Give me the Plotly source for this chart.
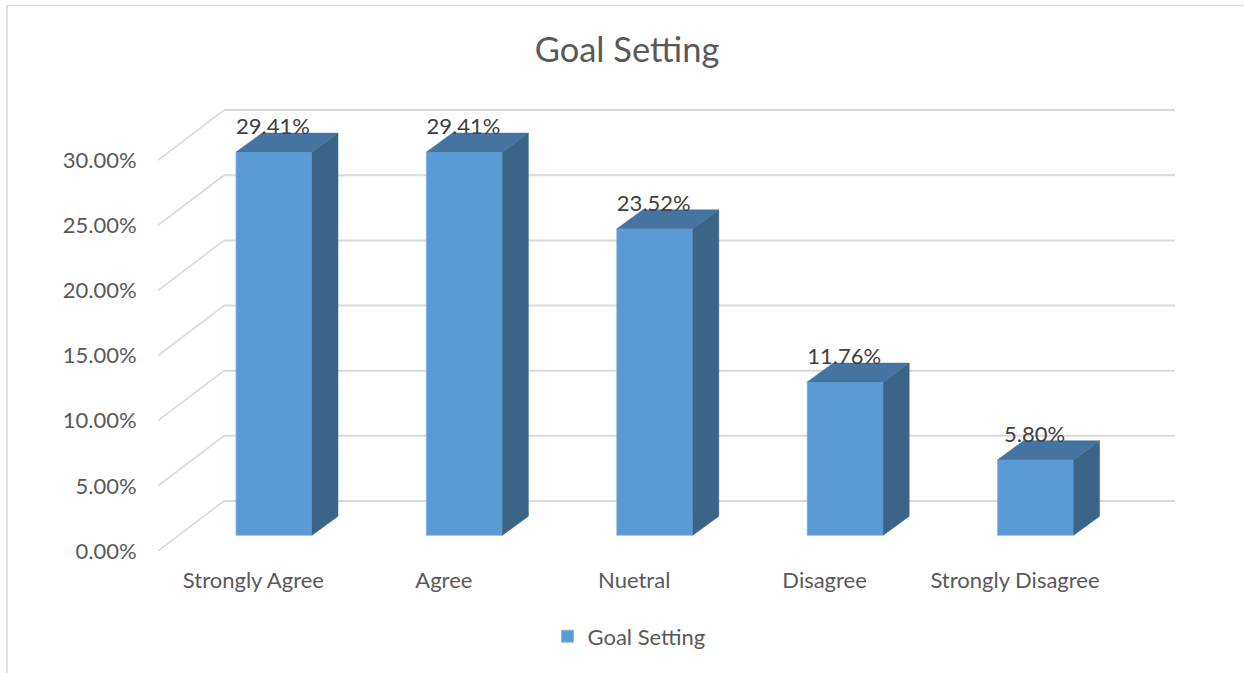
import plotly.graph_objects as go

# Data
categories = ["Strongly Agree", "Agree", "Nuetral", "Disagree", "Strongly Disagree"]
values = [0.2941, 0.2941, 0.2352, 0.1176, 0.0580]
value_labels = ["29.41%", "29.41%", "23.52%", "11.76%", "5.80%"]
y_ticks = [0.0, 0.05, 0.10, 0.15, 0.20, 0.25, 0.30]
series_name = "Goal Setting"

# Pseudo-3D geometry in axis units
W, H = 1244, 673
L, R, T, B = 158, 1175, 100, 550.7
UX = 190.4          # px per category
UY = 1302.0         # px per 1.00 of value
wall_dx = 66 / UX
wall_dy = 50 / UY
bar_dx = 20.6 / UX
bar_dy = 15.7 / UY
bar_w = 76 / UX
depth_dx = 26 / UX
depth_dy = 19 / UY
label_dy = 23.5 / UY

xs = list(range(len(categories)))
x_min = -(253.4 - L) / UX
x_max = (R - 253.4) / UX
y_max = (B - T) / UY

FRONT, TOP, SIDE = "#5b9bd5", "#44749f", "#3a6488"
GRID, TEXT, LABEL = "#d9d9d9", "#595959", "#404040"
FONT = "Lato"

fig = go.Figure()

# Front faces
fig.add_trace(go.Bar(
    x=[i + bar_dx for i in xs], y=values, base=[bar_dy] * len(xs), width=bar_w,
    name=series_name, marker=dict(color=FRONT, line=dict(color="#7fb2e0", width=0.8)),
    showlegend=True, hoverinfo="skip",
))

# Side and top faces
for i, v in zip(xs, values):
    x0 = i + bar_dx - bar_w / 2
    x1 = i + bar_dx + bar_w / 2
    b, t = bar_dy, bar_dy + v
    fig.add_trace(go.Scatter(
        x=[x1, x1 + depth_dx, x1 + depth_dx, x1, x1],
        y=[b, b + depth_dy, t + depth_dy, t, b],
        mode="lines", fill="toself", fillcolor=SIDE, line=dict(color=SIDE, width=0.5),
        showlegend=False, hoverinfo="skip",
    ))
    fig.add_trace(go.Scatter(
        x=[x0, x0 + depth_dx, x1 + depth_dx, x1, x0],
        y=[t, t + depth_dy, t + depth_dy, t, t],
        mode="lines", fill="toself", fillcolor=TOP, line=dict(color=TOP, width=0.5),
        showlegend=False, hoverinfo="skip",
    ))

# Data labels
fig.add_trace(go.Scatter(
    x=[i + bar_dx - 1 / UX for i in xs], y=[v + bar_dy + label_dy for v in values],
    mode="text", text=value_labels, textposition="middle center",
    textfont=dict(family=FONT, size=22, color=LABEL),
    showlegend=False, hoverinfo="skip", cliponaxis=False,
))

# Wall and side gridlines
shapes = []
for t in y_ticks:
    shapes.append(dict(type="line", xref="x", yref="y", layer="below",
                       x0=x_min, y0=t, x1=x_min + wall_dx, y1=t + wall_dy,
                       line=dict(color=GRID, width=1.6)))
    shapes.append(dict(type="line", xref="x", yref="y", layer="below",
                       x0=x_min + wall_dx, y0=t + wall_dy, x1=x_max, y1=t + wall_dy,
                       line=dict(color=GRID, width=2)))

# Chart-area border (left and top edges)
sx = lambda p: (p - L) / (R - L)
sy = lambda p: (B - p) / (B - T)
shapes.append(dict(type="line", xref="paper", yref="paper", layer="below",
                   x0=sx(7), y0=sy(5.5), x1=sx(7), y1=sy(673), line=dict(color=GRID, width=1.6)))
shapes.append(dict(type="line", xref="paper", yref="paper", layer="below",
                   x0=sx(7), y0=sy(5.5), x1=sx(1244), y1=sy(5.5), line=dict(color=GRID, width=1.2)))

fig.update_layout(
    width=W, height=H,
    margin=dict(l=L, r=W - R, t=T, b=H - B, pad=0),
    paper_bgcolor="white", plot_bgcolor="white",
    font=dict(family=FONT, color=TEXT, size=22),
    title=dict(text=series_name, x=627 / W, xanchor="center", y=1 - 49.5 / H, yanchor="middle",
               font=dict(family=FONT, size=34.5, color=TEXT)),
    xaxis=dict(range=[x_min, x_max], tickmode="array", tickvals=xs, ticktext=categories,
               showgrid=False, zeroline=False, showline=False, ticks="outside", ticklen=10,
               tickcolor="rgba(0,0,0,0)", tickfont=dict(family=FONT, size=22, color=TEXT)),
    yaxis=dict(range=[0, y_max], tickmode="array", tickvals=y_ticks, tickformat=".2%",
               showgrid=False, zeroline=False, showline=False, ticks="outside", ticklen=16,
               tickcolor="rgba(0,0,0,0)", tickfont=dict(family=FONT, size=22, color=TEXT)),
    legend=dict(orientation="h", x=sx(629), xanchor="center", y=sy(636), yanchor="middle",
                font=dict(family=FONT, size=22, color=TEXT), bgcolor="rgba(0,0,0,0)"),
    shapes=shapes,
    showlegend=True,
)

fig.write_html("out.html", post_script="document.body.style.margin='0';", config=dict(displayModeBar=False))
